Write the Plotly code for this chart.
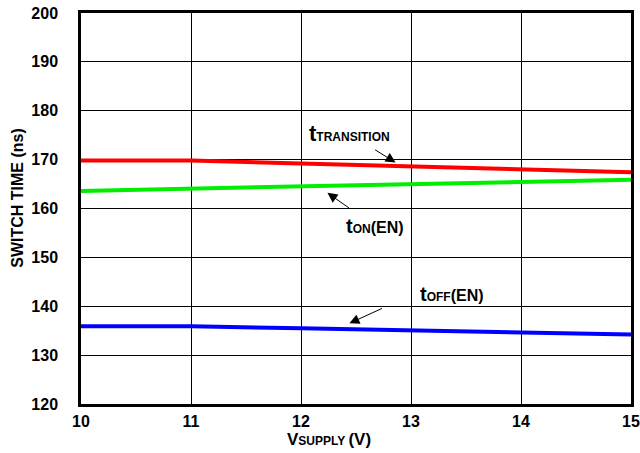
import plotly.graph_objects as go

# Supply voltage sweep (V) and measured switch times (ns)
vsupply = [10, 11, 12, 13, 14, 15]
t_transition = [169.8, 169.8, 169.2, 168.6, 168.0, 167.4]
t_on_en = [163.6, 164.1, 164.6, 165.1, 165.5, 165.9]
t_off_en = [135.9, 135.9, 135.5, 135.0, 134.6, 134.2]

x_ticks = [10, 11, 12, 13, 14, 15]
y_ticks = [120, 130, 140, 150, 160, 170, 180, 190, 200]

FONT = "Liberation Sans, Arial, sans-serif"

fig = go.Figure()
fig.add_trace(go.Scatter(x=vsupply, y=t_transition, mode="lines",
                         line=dict(color="#ff0000", width=4)))
fig.add_trace(go.Scatter(x=vsupply, y=t_on_en, mode="lines",
                         line=dict(color="#00ee00", width=4)))
fig.add_trace(go.Scatter(x=vsupply, y=t_off_en, mode="lines",
                         line=dict(color="#0000ff", width=4)))

def arrow(x_head, y_head, x_tail, y_tail):
    return dict(x=x_head, y=y_head, xref="x", yref="y",
                ax=x_tail, ay=y_tail, axref="x", ayref="y",
                text="", showarrow=True, arrowhead=2, arrowsize=2.0,
                arrowwidth=1, arrowcolor="black")

annotations = [
    dict(x=12.44, y=175.4, xref="x", yref="y", showarrow=False,
         text="<b><span style='font-size:22px'>t</span>TRANSITION</b>",
         font=dict(family=FONT, size=12, color="black")),
    arrow(12.86, 169.4, 12.66, 172.2),
    dict(x=12.67, y=156.5, xref="x", yref="y", showarrow=False,
         text="<b><span style='font-size:20px'>t</span>ON<span style='font-size:16px'>(EN)</span></b>",
         font=dict(family=FONT, size=12, color="black")),
    arrow(12.24, 163.2, 12.45, 159.9),
    dict(x=13.37, y=142.6, xref="x", yref="y", showarrow=False,
         text="<b><span style='font-size:20px'>t</span>OFF<span style='font-size:16px'>(EN)</span></b>",
         font=dict(family=FONT, size=12, color="black")),
    arrow(12.44, 136.5, 12.75, 139.7),
    # axis titles
    dict(x=0.45, y=-0.09, xref="paper", yref="paper", showarrow=False,
         yanchor="middle",
         text="<b><span style='font-size:17px'>V</span>SUPPLY <span style='font-size:17px'>(V)</span></b>",
         font=dict(family=FONT, size=12, color="black")),
    dict(x=-0.116, y=0.528, xref="paper", yref="paper", showarrow=False,
         xanchor="center", yanchor="middle", textangle=-90,
         text="<b>SWITCH TIME (ns)</b>",
         font=dict(family=FONT, size=16, color="black")),
]

fig.update_layout(
    width=640, height=453,
    margin=dict(l=81, r=9, t=13, b=49, autoexpand=False),
    paper_bgcolor="white", plot_bgcolor="white",
    showlegend=False,
    font=dict(family=FONT, size=16, color="black"),
    annotations=annotations,
)
fig.update_xaxes(
    range=[10, 15], tickvals=x_ticks, ticktext=[f"<b>{v}</b>" for v in x_ticks],
    showgrid=True, gridcolor="black", gridwidth=1.4,
    showline=True, linecolor="black", linewidth=2.5, mirror=True,
    zeroline=False, ticks="", ticklabelstandoff=1, ticklabeloverflow="allow",
    automargin=False,
)
fig.update_yaxes(
    range=[120, 200], tickvals=y_ticks, ticktext=[f"<b>{v}</b>" for v in y_ticks],
    showgrid=True, gridcolor="black", gridwidth=1.4,
    showline=True, linecolor="black", linewidth=2.5, mirror=True,
    zeroline=False, ticks="", ticklabelstandoff=17, automargin=False,
)

fig.write_html("out.html")
